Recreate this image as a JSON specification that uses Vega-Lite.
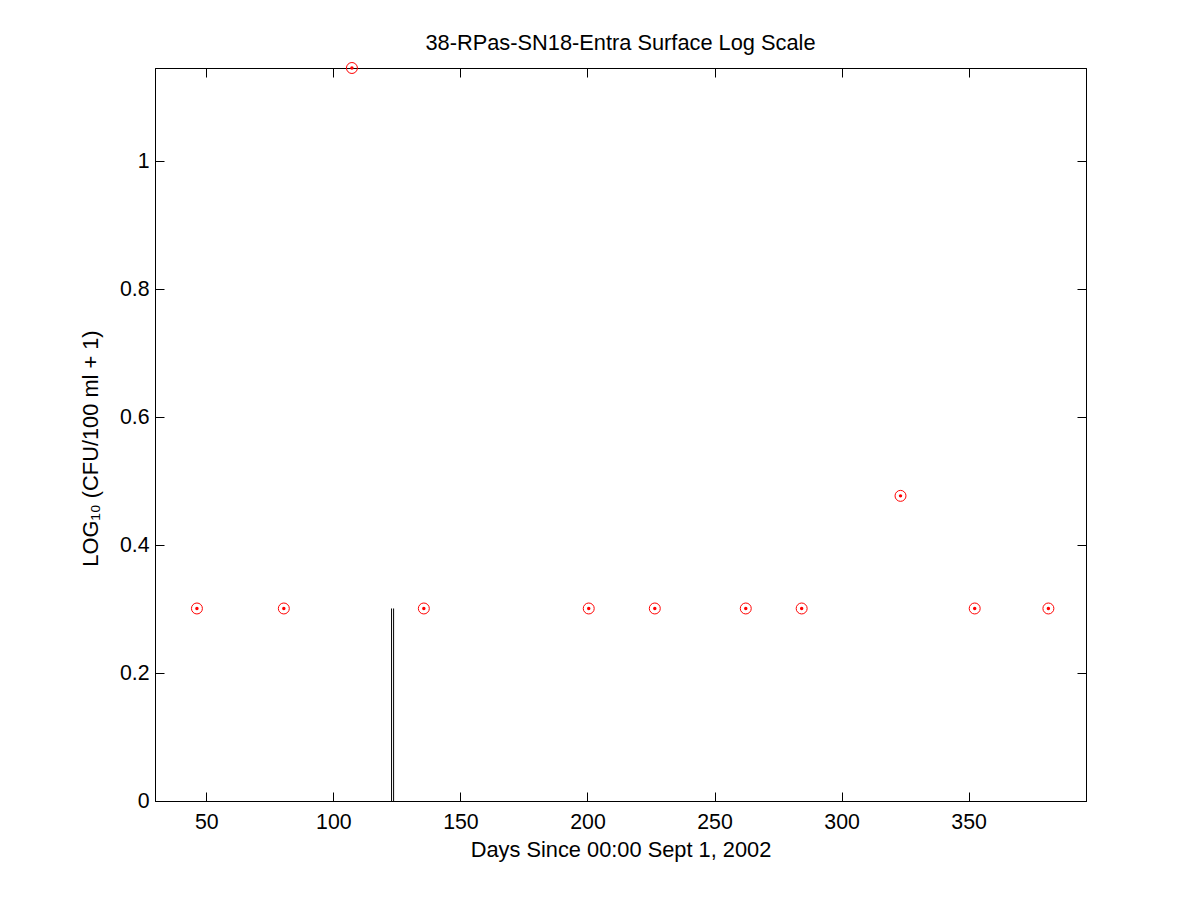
{
  "$schema": "https://vega.github.io/schema/vega-lite/v6.json",
  "width": 931,
  "height": 733,
  "autosize": {"type": "none"},
  "padding": {"left": 155, "top": 68, "right": 114, "bottom": 99},
  "background": "white",
  "config": {
    "font": "Liberation Sans",
    "view": {"stroke": "black", "strokeWidth": 1, "fill": "white"},
    "axis": {
      "domainColor": "black",
      "tickColor": "black",
      "labelColor": "black",
      "titleColor": "black",
      "labelFont": "Liberation Sans",
      "titleFont": "Liberation Sans",
      "labelFontSize": 21.3,
      "titleFontSize": 21.8,
      "titleFontWeight": "normal",
      "grid": false,
      "tickSize": -9,
      "labelFlush": false,
      "labelOverlap": false
    }
  },
  "title": {
    "text": "38-RPas-SN18-Entra Surface Log Scale",
    "font": "Liberation Sans",
    "fontSize": 21.8,
    "fontWeight": "normal",
    "color": "black",
    "baseline": "alphabetic",
    "offset": -11,
    "anchor": "middle"
  },
  "datasets": {
    "points": [
      {"day": 46.3, "logcfu": 0.30103},
      {"day": 80.5, "logcfu": 0.30103},
      {"day": 107.3, "logcfu": 1.14613},
      {"day": 135.6, "logcfu": 0.30103},
      {"day": 200.5, "logcfu": 0.30103},
      {"day": 226.5, "logcfu": 0.30103},
      {"day": 262.3, "logcfu": 0.30103},
      {"day": 284.3, "logcfu": 0.30103},
      {"day": 323.2, "logcfu": 0.47712},
      {"day": 352.4, "logcfu": 0.30103},
      {"day": 381.4, "logcfu": 0.30103}
    ],
    "lines": [
      {"day": 122.9, "low": 0, "high": 0.30103},
      {"day": 123.7, "low": 0, "high": 0.30103}
    ]
  },
  "layer": [
    {
      "data": {"name": "lines"},
      "mark": {"type": "rule", "color": "black", "strokeWidth": 1},
      "encoding": {
        "x": {
          "field": "day", "type": "quantitative",
          "scale": {"domain": [29.8, 396.2], "nice": false, "zero": false},
          "axis": {"orient": "bottom", "values": [50, 100, 150, 200, 250, 300, 350], "title": "Days Since 00:00 Sept 1, 2002", "labelPadding": 19, "titlePadding": 7}
        },
        "y": {
          "field": "low", "type": "quantitative",
          "scale": {"domain": [0, 1.14613], "nice": false, "zero": false},
          "axis": {"orient": "left", "values": [0, 0.2, 0.4, 0.6, 0.8, 1], "format": "~g", "title": "LOG₁₀ (CFU/100 ml + 1)", "labelPadding": 15, "titlePadding": 17, "titleY": 380}
        },
        "y2": {"field": "high"}
      }
    },
    {
      "data": {"name": "points"},
      "mark": {"type": "point", "shape": "circle", "color": "red", "filled": false, "size": 120, "strokeWidth": 1, "opacity": 1},
      "encoding": {
        "x": {
          "field": "day", "type": "quantitative",
          "scale": {"domain": [29.8, 396.2], "nice": false, "zero": false},
          "axis": {"orient": "top", "values": [50, 100, 150, 200, 250, 300, 350], "labels": false, "title": null}
        },
        "y": {
          "field": "logcfu", "type": "quantitative",
          "scale": {"domain": [0, 1.14613], "nice": false, "zero": false},
          "axis": {"orient": "right", "values": [0, 0.2, 0.4, 0.6, 0.8, 1], "labels": false, "title": null}
        }
      }
    },
    {
      "data": {"name": "points"},
      "mark": {"type": "circle", "color": "red", "size": 12, "opacity": 1},
      "encoding": {
        "x": {"field": "day", "type": "quantitative", "scale": {"domain": [29.8, 396.2], "nice": false, "zero": false}, "axis": null},
        "y": {"field": "logcfu", "type": "quantitative", "scale": {"domain": [0, 1.14613], "nice": false, "zero": false}, "axis": null}
      }
    }
  ],
  "resolve": {"axis": {"x": "independent", "y": "independent"}}
}
